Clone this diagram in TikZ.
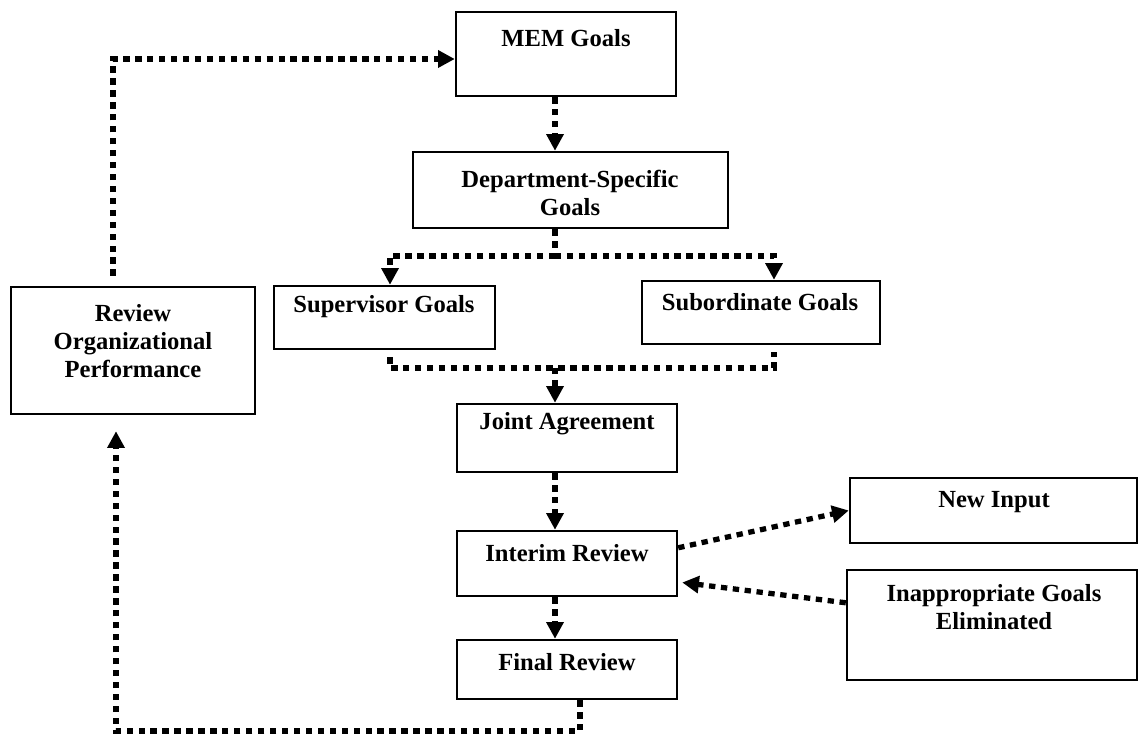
\documentclass[tikz,border=0pt]{standalone}
\usepackage{fontspec}
\setmainfont{Liberation Serif}
\usetikzlibrary{arrows.meta,calc,fit}
\begin{document}
\begin{tikzpicture}[x=0.02cm,y=-0.02cm,
  box/.style={draw=black,line width=1.4pt,inner sep=0pt},
  lbl/.style={font=\fontsize{14}{16}\selectfont\bfseries,align=center,inner sep=0pt},
  dotline/.style={line width=3pt,dash pattern=on 3.6pt off 3.2pt},
  flow/.style={dotline,-{Triangle[length=9.5pt,width=9.5pt]}}]
\useasboundingbox (0,0) rectangle (1139,736);

% boxes
\node[box,fit={(456,12)(676,96)}]    (mem)    {};
\node[box,fit={(413,152)(728,228)}]  (dept)   {};
\node[box,fit={(274,286)(495,349)}]  (sup)    {};
\node[box,fit={(642,281)(880,344)}]  (sub)    {};
\node[box,fit={(11,287)(255,414)}]   (review) {};
\node[box,fit={(457,404)(677,472)}]  (joint)  {};
\node[box,fit={(457,531)(677,596)}]  (interim){};
\node[box,fit={(457,640)(677,699)}]  (final)  {};
\node[box,fit={(850,478)(1137,543)}] (newin)  {};
\node[box,fit={(847,570)(1137,680)}] (inapp)  {};

% labels
\node[lbl] (memT)   at (566,38)  {MEM Goals};
\node[lbl] (deptT)  at (570,193) {Department-Specific\\Goals};
\node[lbl] (supT)   at (384,307) {Supervisor Goals};
\node[lbl] (subT)   at (760,302) {Subordinate Goals};
\node[lbl] (revT)   at (133,341) {Review\\Organizational\\Performance};
\node[lbl] (jointT) at (567,424) {Joint Agreement};
\node[lbl] (intT)   at (567,553) {Interim Review};
\node[lbl] (finT)   at (567,662) {Final Review};
\node[lbl] (newT)   at (994,502) {New Input};
\node[lbl] (inT)    at (994,607) {Inappropriate Goals\\Eliminated};

% routing guides
\coordinate (col)    at (555,0);
\coordinate (supx)   at (390,0);
\coordinate (subx)   at (774,0);
\coordinate (lx)     at (113,0);
\coordinate (lx2)    at (116,0);
\coordinate (fx)     at (580,0);
\coordinate (topy)   at (0,59);
\coordinate (splity) at (0,256);
\coordinate (joiny)  at (0,368);
\coordinate (boty)   at (0,731);

% connectors
\draw[flow] ($(review.north -| lx)+(0,-10)$) -- (lx |- topy) -- (mem.west |- topy);
\draw[flow] (mem.south -| col) -- (dept.north -| col);
\draw[dotline] (dept.south -| col) -- (col |- splity);
\draw[flow] (col |- splity) -| (sup.north -| supx);
\draw[flow] (col |- splity) -| (sub.north -| subx);
\draw[dotline] ($(sup.south -| supx)+(0,7)$) |- (subx |- joiny) -- ($(sub.south -| subx)+(0,7)$);
\draw[flow] (col |- joiny) -- (joint.north -| col);
\draw[flow] (joint.south -| col) -- (interim.north -| col);
\draw[flow] (interim.south -| col) -- (final.north -| col);
\draw[flow] ($(interim.north east)+(0,18)$) -- (newin.west);
\draw[flow] ($(inapp.north west)+(0,34)$) -- ($(interim.east)+(4,19)$);
\draw[flow] (final.south -| fx) -- (fx |- boty) -- (lx2 |- boty) -- ($(review.south -| lx2)+(0,16)$);
\end{tikzpicture}
\end{document}
